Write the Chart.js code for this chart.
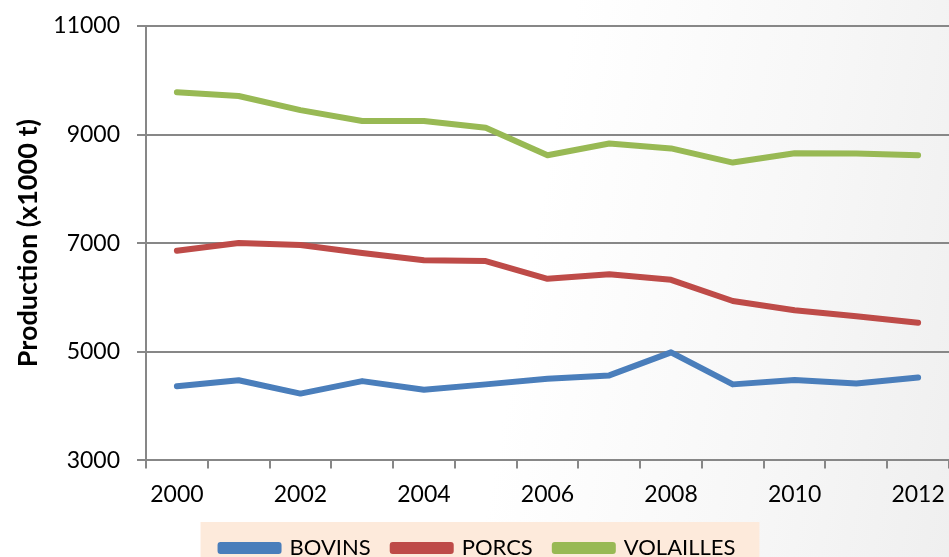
<!DOCTYPE html>
<html>
<head>
<meta charset="utf-8">
<script src="https://cdn.jsdelivr.net/npm/chart.js@4.4.0/dist/chart.umd.min.js"></script>
<style>
  html, body { margin: 0; padding: 0; }
  body {
    width: 949px; height: 557px; overflow: hidden;
    background: linear-gradient(100deg, #ffffff 55%, #f7f7f7 80%, #efefef 100%);
  }
  canvas { display: block; }
</style>
</head>
<body>
<canvas id="prod_chart" width="949" height="557"></canvas>
<script>
// données -----------
const years = ['2000', '2001', '2002', '2003', '2004', '2005', '2006', '2007', '2008', '2009', '2010', '2011', '2012'];
const bovins = [4365, 4475, 4230, 4460, 4300, 4400, 4505, 4565, 4990, 4400, 4480, 4415, 4525];
const porcs = [6860, 7005, 6965, 6820, 6685, 6670, 6345, 6430, 6325, 5935, 5765, 5655, 5535];
const volailles = [9780, 9710, 9450, 9250, 9250, 9125, 8620, 8835, 8745, 8485, 8655, 8650, 8620];
const yTicks = [3000, 5000, 7000, 9000, 11000];

const fontName = 'Lato, "Open Sans", sans-serif';
const gridColor = '#878787';

// fond de la légende
const legendBg = {
  id: 'legendBg',
  beforeDraw(chart) {
    const boxes = chart.legend && chart.legend.legendHitBoxes;
    if (!boxes || !boxes.length) return;
    const first = boxes[0], last = boxes[boxes.length - 1];
    const ctx = chart.ctx;
    ctx.save();
    ctx.fillStyle = '#fdeadb';
    ctx.fillRect(first.left - 20, 522, (last.left + last.width + 24) - (first.left - 20), chart.height - 522);
    ctx.restore();
  }
};

function serie(label, data, color) {
  return {
    label: label,
    data: data,
    borderColor: color,
    backgroundColor: color,
    borderWidth: 6,
    pointRadius: 0,
    tension: 0,
    borderCapStyle: 'round',
    borderJoinStyle: 'round',
    fill: false
  };
}

new Chart(document.getElementById('prod_chart'), {
  type: 'line',
  data: {
    labels: years,
    datasets: [
      serie('BOVINS', bovins, '#4a7ebb'),
      serie('PORCS', porcs, '#be4b48'),
      serie('VOLAILLES', volailles, '#98b954')
    ]
  },
  options: {
    responsive: false,
    animation: false,
    layout: { padding: { top: 26, right: -7, left: 0, bottom: -12 } },
    scales: {
      x: {
        offset: true,
        afterFit: function (s) { s.paddingLeft = 0; s.paddingRight = 0; s.height -= 5; },
        grid: {
          offset: true,
          drawOnChartArea: false,
          color: gridColor,
          lineWidth: 2,
          tickLength: 8
        },
        border: { color: gridColor, width: 2 },
        ticks: {
          autoSkip: false,
          maxRotation: 0,
          padding: 12,
          color: '#000',
          font: { family: fontName, size: 23 },
          callback: function (v, i) { return i % 2 === 0 ? years[i] : ''; }
        }
      },
      y: {
        min: 3000,
        max: 11000,
        afterBuildTicks: function (s) { s.ticks = yTicks.map(v => ({ value: v })); },
        afterFit: function (s) { s.width = 146; s.paddingTop = 0; s.paddingBottom = 0; },
        grid: { color: gridColor, lineWidth: 2, tickLength: 9 },
        border: { color: gridColor, width: 2 },
        ticks: {
          padding: 17,
          color: '#000',
          font: { family: fontName, size: 23 },
          callback: function (v) { return String(v); }
        },
        title: {
          display: true,
          text: 'Production (x1000 t)',
          color: '#000',
          padding: { top: 12, bottom: 0 },
          font: { family: fontName, size: 27, weight: 'bold' }
        }
      }
    },
    plugins: {
      legend: {
        display: true,
        position: 'bottom',
        labels: {
          boxWidth: 58,
          boxHeight: 6,
          padding: 22,
          color: '#000',
          font: { family: fontName, size: 22 }
        }
      },
      tooltip: { enabled: false }
    }
  },
  plugins: [legendBg]
});
</script>
</body>
</html>
